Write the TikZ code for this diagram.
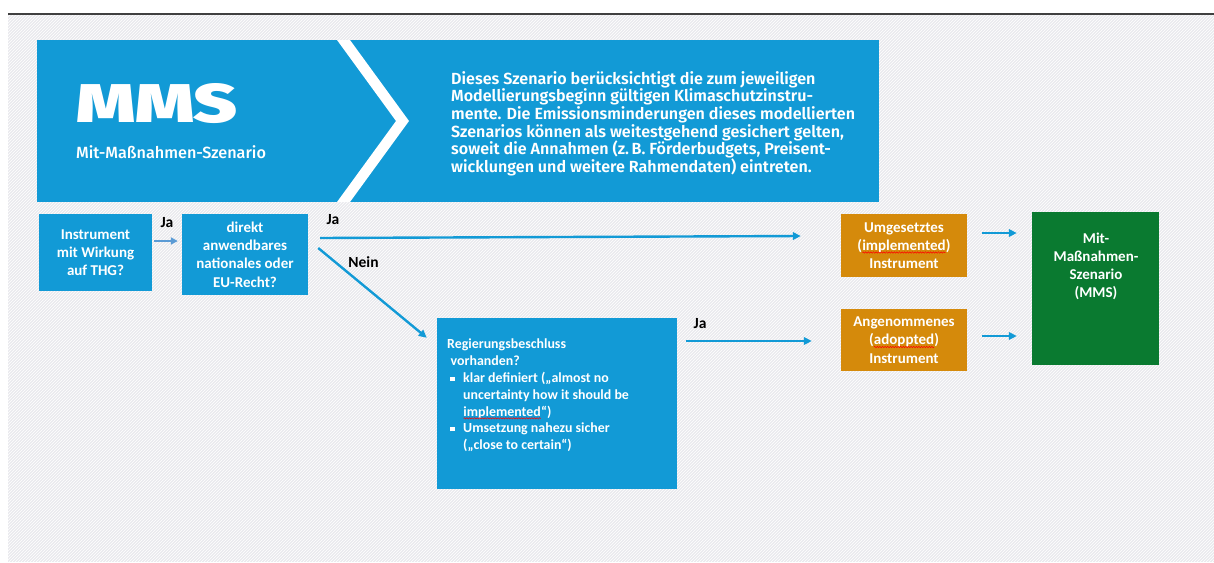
\documentclass[tikz,border=0pt]{standalone}
\usepackage{fontspec}
\usetikzlibrary{arrows.meta,patterns,decorations.pathmorphing}
\setmainfont{Carlito}
\IfFontExistsTF{Fira Sans SemiBold}{\newfontfamily\firasb{Fira Sans SemiBold}}{\newfontfamily\firasb{Fira Sans}}
\IfFontExistsTF{Fira Sans Black}{\newfontfamily\firablk{Fira Sans Black}}{\newfontfamily\firablk{Fira Sans}[UprightFont={* Bold}]}
\IfFontExistsTF{Fira Sans Medium}{\newfontfamily\firamd{Fira Sans Medium}}{\newfontfamily\firamd{Fira Sans}}
\definecolor{uba}{HTML}{129AD6}
\definecolor{lightarrow}{HTML}{5B9BD5}
\definecolor{orangebox}{HTML}{D58A0B}
\definecolor{greenbox}{HTML}{0A7A30}
\definecolor{bggray}{HTML}{EAEAEE}
\newcommand{\squig}[1]{\tikz[x=1pt,y=1pt,baseline=(sw.base)]{%
  \node[inner sep=0pt, outer sep=0pt, fill=none, draw=none, minimum width=0pt, minimum height=0pt, anchor=base] (sw) at (0,0) {#1};
  \draw[red, line width=0.5pt, fill=none, decorate, decoration={snake, amplitude=0.7pt, segment length=2.6pt}]
    ([yshift=-2.2pt]sw.base west) -- ([yshift=-2.2pt]sw.base east);}}
\newcommand{\bul}{\hspace*{3pt}\rule[1.5pt]{4.5pt}{4.5pt}\hspace{8.5pt}}
\begin{document}
\begin{tikzpicture}[x=1pt,y=-1pt,
  filledbox/.style={inner sep=0pt, text=white, align=center,
    font=\bfseries\fontsize{15}{18.3}\selectfont},
  bluebox/.style={filledbox, fill=uba},
  orangebox/.style={filledbox, fill=orangebox},
  greenbox/.style={filledbox, fill=greenbox},
  conn/.style={draw=uba, line width=2.4pt, -{Triangle[length=8pt,width=7.5pt]}},
  smallconn/.style={draw=lightarrow, line width=2.2pt, -{Triangle[length=7pt,width=7pt]}},
  lbl/.style={inner sep=0pt, text=black, font=\bfseries\fontsize{15.5}{18}\selectfont}]
\useasboundingbox (0,0) rectangle (1214,562);
% background
\fill[bggray] (8,15) rectangle (1214,562);
\fill[pattern=north east lines, pattern color=white] (8,15) rectangle (1214,562);
\draw[line width=2pt, black!75] (8,14) -- (1214,14);
% banner
\fill[uba] (37,40) rectangle (879,202);
\fill[white] (337,40) -- (350,40) -- (409,121) -- (350,202) -- (337,202) -- (396,121) -- cycle;
\node[anchor=south west, inner sep=0pt, text=white] (mms) at (76,124)
  {\resizebox{161pt}{39pt}{\firablk MMS}};
\node[anchor=base west, inner sep=0pt, text=white, font=\firamd\fontsize{16.2}{18}\selectfont] (mmssub) at (76,158.3)
  {Mit-Maßnahmen-Szenario};
\node[anchor=north west, inner sep=0pt, text=white, align=left,
  font=\firasb\fontsize{16.1}{17.7}\selectfont] (desc) at (451,71)
  {Dieses Szenario berücksichtigt die zum jeweiligen\\
   Modellierungsbeginn gültigen Klimaschutzinstru-\\
   mente. Die Emissionsminderungen dieses modellierten\\
   Szenarios können als weitestgehend gesichert gelten,\\
   soweit die Annahmen (z.\,B. Förderbudgets, Preisent-\\
   wicklungen und weitere Rahmendaten) eintreten.};
% boxes
\node[bluebox, minimum width=113pt, minimum height=77pt] (b1) at (95.5,252.5)
  {Instrument\\mit Wirkung\\auf THG?};
\node[bluebox, minimum width=126pt, minimum height=81pt] (b2) at (245,254.5)
  {direkt\\anwendbares\\nationales oder\\EU-Recht?};
\node[bluebox, minimum width=240pt, minimum height=171pt] (b3) at (557,403.5) {};
\node[anchor=north west, inner sep=0pt, text=white, align=left,
  font=\bfseries\fontsize{13.9}{16.8}\selectfont] (b3text) at (447,339)
  {Regierungsbeschluss\\
   \hspace*{3.5pt}vorhanden?\\
   \bul klar definiert („almost no\\
   \hspace*{16pt}uncertainty how it should be\\
   \hspace*{16pt}\squig{implemented}“)\\
   \bul Umsetzung nahezu sicher\\
   \hspace*{16pt}(„close to certain“)};
\node[orangebox, minimum width=126pt, minimum height=63pt] (o1) at (904,245.5)
  {Umgesetztes\\(\squig{implemented})\\Instrument};
\node[orangebox, minimum width=126pt, minimum height=62pt] (o2) at (904,340)
  {Angenommenes\\(\squig{adoppted})\\Instrument};
\node[greenbox, minimum width=127pt, minimum height=153pt] (g) at (1095.5,288.5) {};
\node[inner sep=0pt, text=white, align=center,
  font=\bfseries\fontsize{15}{18}\selectfont] (gtext) at (1096,266)
  {Mit-\\Maßnahmen-\\Szenario\\(MMS)};
% connectors
\draw[smallconn] ([xshift=2pt,yshift=11.5pt]b1.east) -- ([xshift=-4pt,yshift=13.5pt]b2.west);
\draw[conn] ([xshift=12pt,yshift=16.5pt]b2.east) -- ([xshift=-40pt,yshift=9.5pt]o1.west);
\draw[conn] ([xshift=10pt,yshift=6.5pt]b2.east) -- ([xshift=-10pt,yshift=-20pt]b3.north west);
\draw[conn] ([xshift=9pt,yshift=62.5pt]b3.east) -- ([xshift=-29pt,yshift=-1pt]o2.west);
\draw[conn] ([xshift=15pt,yshift=12.5pt]o1.east) -- ([xshift=-15pt,yshift=55.5pt]g.west);
\draw[conn] ([xshift=15pt,yshift=4pt]o2.east) -- ([xshift=-15pt,yshift=-47.5pt]g.west);
% labels
\node[lbl] (ja1) at (167,223) {Ja};
\node[lbl] (ja2) at (333,220) {Ja};
\node[lbl] (nein) at (363.5,262) {Nein};
\node[lbl] (ja3) at (700,324) {Ja};
\end{tikzpicture}
\end{document}
